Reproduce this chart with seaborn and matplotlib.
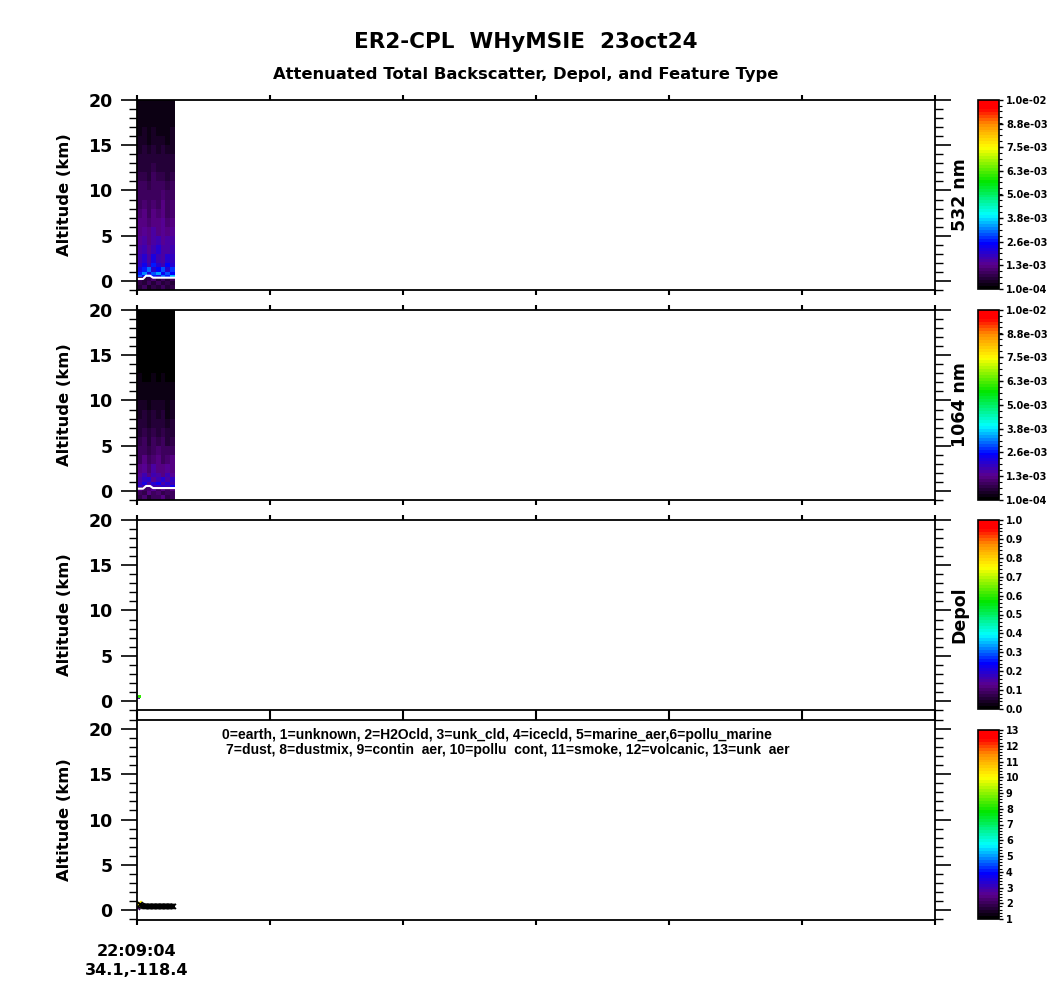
import numpy as np
import matplotlib
matplotlib.use("Agg")
import matplotlib.pyplot as plt
from matplotlib.colors import LinearSegmentedColormap, Normalize
from matplotlib.cm import ScalarMappable
from matplotlib.ticker import MultipleLocator
import seaborn as sns

# ---- data read off the quicklook ----
# profile times (s after 22:09:04) bounding the data columns
col_edges = [0, 21, 43, 64, 86, 107, 128, 150, 171]
# altitude bin edges (km)
alt_edges = [-1.0, -0.5, 0.0, 0.4, 0.7, 1.0, 1.5, 2, 3, 4, 5, 6, 7, 8, 9,
             10, 11, 12, 13, 14, 15, 16, 17, 18, 19, 20]

# 532 nm attenuated backscatter, units of 1e-4, rows bottom -> top
bs532 = [
    [6, 9, 5, 8, 7, 10, 6, 8],
    [8, 6, 10, 7, 9, 6, 8, 7],
    [9, 7, 8, 11, 6, 9, 7, 10],
    [30, 24, 34, 27, 22, 31, 26, 36],
    [26, 33, 22, 29, 35, 24, 30, 25],
    [22, 27, 31, 20, 25, 29, 21, 28],
    [19, 24, 17, 26, 21, 18, 25, 20],
    [17, 20, 15, 22, 18, 16, 21, 19],
    [15, 18, 14, 17, 20, 15, 16, 18],
    [14, 16, 13, 15, 17, 14, 15, 16],
    [13, 14, 12, 15, 13, 14, 12, 14],
    [12, 13, 11, 13, 12, 14, 11, 12],
    [11, 12, 10, 12, 11, 13, 10, 11],
    [10, 11, 10, 11, 10, 12, 9, 11],
    [9, 10, 9, 10, 10, 11, 9, 10],
    [9, 9, 8, 10, 9, 9, 8, 9],
    [8, 8, 7, 9, 8, 8, 7, 8],
    [7, 7, 7, 8, 7, 7, 6, 7],
    [6, 7, 6, 7, 6, 6, 6, 7],
    [5, 6, 5, 6, 5, 6, 5, 5],
    [5, 5, 4, 5, 5, 5, 4, 5],
    [4, 5, 4, 5, 4, 4, 4, 5],
    [4, 4, 4, 4, 4, 4, 4, 4],
    [4, 4, 3, 4, 4, 3, 4, 4],
    [3, 4, 3, 3, 4, 3, 3, 4],
]

# 1064 nm attenuated backscatter, units of 1e-4
bs1064 = [
    [8, 11, 7, 10, 9, 12, 8, 10],
    [10, 8, 12, 9, 11, 8, 10, 9],
    [12, 10, 11, 14, 9, 12, 10, 13],
    [20, 16, 23, 18, 15, 21, 17, 24],
    [18, 22, 15, 20, 23, 16, 21, 17],
    [16, 19, 21, 14, 17, 20, 15, 19],
    [14, 17, 12, 18, 15, 13, 17, 14],
    [12, 14, 11, 15, 13, 12, 14, 13],
    [10, 12, 9, 11, 13, 10, 11, 12],
    [9, 10, 8, 10, 11, 9, 10, 10],
    [8, 9, 7, 9, 8, 9, 7, 8],
    [7, 8, 6, 8, 7, 8, 6, 7],
    [6, 7, 5, 7, 6, 7, 5, 6],
    [5, 6, 5, 6, 5, 6, 4, 5],
    [5, 5, 4, 5, 5, 5, 4, 5],
    [4, 4, 3, 4, 4, 4, 3, 4],
    [3, 3, 3, 3, 3, 3, 3, 3],
    [3, 2, 2, 3, 2, 3, 2, 2],
    [2, 2, 2, 2, 2, 2, 2, 2],
    [1, 2, 1, 2, 1, 1, 1, 2],
    [1, 1, 1, 1, 1, 1, 1, 1],
    [1, 1, 1, 1, 1, 1, 1, 1],
    [1, 1, 1, 1, 1, 1, 1, 1],
    [1, 1, 1, 1, 1, 1, 1, 1],
    [1, 1, 1, 1, 1, 1, 1, 1],
]

# ground return line (white)
surf_time = [0, 27, 41, 59, 72, 171]
surf_alt532 = [0.22, 0.22, 0.58, 0.58, 0.36, 0.36]
surf_alt1064 = [0.25, 0.25, 0.55, 0.55, 0.32, 0.32]

# depol retrievals near the ground
dep_time = [2, 6, 10]
dep_alt = [0.4, 0.4, 0.5]
dep_val = [0.15, 0.15, 0.6]

# feature type flags
ft_time = [2, 5, 9, 14, 20, 26, 32, 38, 44, 50, 56, 62, 68, 74, 80, 86,
           92, 98, 104, 110, 116, 122, 128, 134, 140, 146, 152, 158, 164]
ft_alt = [0.3, 0.6, 0.7, 0.6, 0.5, 0.45, 0.4, 0.4, 0.4, 0.4, 0.4, 0.4, 0.4,
          0.4, 0.4, 0.4, 0.4, 0.4, 0.4, 0.4, 0.4, 0.4, 0.4, 0.4, 0.4, 0.4,
          0.4, 0.4, 0.4]
ft_val = [2, 10, 10, 1, 1, 1, 1, 1, 1, 1, 1, 1, 1, 1, 1, 1, 1, 1, 1, 1, 1,
          1, 1, 1, 1, 1, 1, 1, 1]

x_ticks = [0, 600, 1200, 1800, 2400, 3000, 3600]
x_ticklabels = ["22:09:04\n34.1,-118.4", "", "", "", "", "", ""]
y_ticks = [0, 5, 10, 15, 20]

bs_ticks = [1.0e-4, 1.34e-3, 2.58e-3, 3.81e-3, 5.05e-3, 6.29e-3, 7.53e-3,
            8.76e-3, 1.0e-2]
dep_ticks = [0.0, 0.1, 0.2, 0.3, 0.4, 0.5, 0.6, 0.7, 0.8, 0.9, 1.0]
ft_ticks = [1, 2, 3, 4, 5, 6, 7, 8, 9, 10, 11, 12, 13]

legend_lines = [
    "0=earth, 1=unknown, 2=H2Ocld, 3=unk_cld, 4=icecld, 5=marine_aer,6=pollu_marine",
    "7=dust, 8=dustmix, 9=contin  aer, 10=pollu  cont, 11=smoke, 12=volcanic, 13=unk  aer",
]

# ---- style ----
sns.set_style("ticks")
plt.rcParams['font.family'] = ['DejaVu Sans']
plt.rcParams['font.weight'] = 'bold'
plt.rcParams['axes.linewidth'] = 1.3
for key in ['text.color', 'axes.labelcolor', 'xtick.color', 'ytick.color',
            'axes.edgecolor']:
    plt.rcParams[key] = 'black'

# IDL-like rainbow (black -> purple -> blue -> cyan -> green -> yellow -> red)
cmap = LinearSegmentedColormap.from_list("idl_rainbow", [
    (0.00, (0.0, 0.0, 0.0)),
    (0.12, (0.36, 0.0, 0.55)),
    (0.24, (0.0, 0.0, 1.0)),
    (0.39, (0.0, 1.0, 1.0)),
    (0.57, (0.0, 0.9, 0.0)),
    (0.75, (1.0, 1.0, 0.0)),
    (0.88, (1.0, 0.55, 0.0)),
    (0.96, (1.0, 0.0, 0.0)),
    (1.00, (1.0, 0.0, 0.0)),
], N=64)

fig = plt.figure(figsize=(10.5, 10), dpi=100)

left, width = 0.1305, 0.76
ax_pos = [[left, 0.71, width, 0.19],
          [left, 0.50, width, 0.19],
          [left, 0.29, width, 0.19],
          [left, 0.08, width, 0.20]]
cb_pos = [[0.9314, 0.711, 0.02, 0.189],
          [0.9314, 0.500, 0.02, 0.190],
          [0.9314, 0.291, 0.02, 0.189],
          [0.9314, 0.081, 0.02, 0.189]]
axes = [fig.add_axes(p) for p in ax_pos]

bs_norm = Normalize(vmin=1.0e-4, vmax=1.0e-2)
dep_norm = Normalize(vmin=0.0, vmax=1.0)
ft_norm = Normalize(vmin=1, vmax=13)

# backscatter strips
for ax, grid, salt in [(axes[0], bs532, surf_alt532),
                       (axes[1], bs1064, surf_alt1064)]:
    vals = np.array(grid, dtype=float) * 1e-4
    ax.pcolormesh(col_edges, alt_edges, vals, cmap=cmap, norm=bs_norm)
    sns.lineplot(x=surf_time, y=salt, color="white", lw=1.5,
                 estimator=None, ax=ax)

# depol
sns.scatterplot(x=dep_time, y=dep_alt, hue=dep_val, palette=cmap,
                hue_norm=dep_norm, marker="s", s=6, linewidth=0,
                legend=False, ax=axes[2])

# feature type
sns.scatterplot(x=ft_time, y=ft_alt, hue=ft_val, palette=cmap,
                hue_norm=ft_norm, marker="x", s=14, linewidth=1.2,
                legend=False, ax=axes[3])
for i, line in enumerate(legend_lines):
    axes[3].text(0.1065 + i * 0.005, 0.925 - i * 0.075, line,
                 transform=axes[3].transAxes,
                 ha="left", va="center", fontsize=10, fontweight="bold",
                 family=["Liberation Sans Narrow", "Liberation Sans"])

ylims = [(-1, 20), (-1, 20), (-1, 20), (-1.1, 21)]
for i, ax in enumerate(axes):
    ax.set_xlim(x_ticks[0], x_ticks[-1])
    ax.set_ylim(*ylims[i])
    ax.set_yticks(y_ticks)
    ax.yaxis.set_minor_locator(MultipleLocator(1))
    ax.set_xticks(x_ticks)
    ax.set_ylabel("Altitude (km)", fontsize=11.8, fontweight="bold",
                  labelpad=12)
    ax.tick_params(axis="y", which="major", direction="out", length=11.5,
                   width=1.2, left=True, right=True, labelsize=12.5, pad=6)
    ax.tick_params(axis="y", which="minor", direction="out", length=5.8,
                   width=1.0, left=True, right=True)
    ax.tick_params(axis="x", which="major", direction="out", length=3.5,
                   width=1.5, top=True, bottom=True)
    for lab in ax.get_yticklabels():
        lab.set_fontweight("bold")
    if i < 3:
        ax.set_xticklabels([])
    else:
        ax.set_xticklabels(x_ticklabels, fontsize=11.6, fontweight="bold",
                           linespacing=1.3)
        ax.tick_params(axis="x", pad=14)
    for sp in ax.spines.values():
        sp.set_visible(True)
        sp.set_linewidth(1.3)

# colorbars
cb_specs = [(bs_norm, bs_ticks, "%.1e", "532 nm"),
            (bs_norm, bs_ticks, "%.1e", "1064 nm"),
            (dep_norm, dep_ticks, "%.1f", "Depol"),
            (ft_norm, ft_ticks, "%d", None)]
for pos, (norm, ticks, fmt, name), apos in zip(cb_pos, cb_specs, ax_pos):
    cax = fig.add_axes(pos)
    sm = ScalarMappable(norm=norm, cmap=cmap)
    cb = fig.colorbar(sm, cax=cax, ticks=ticks, format=fmt)
    cb.outline.set_linewidth(1.2)
    cb.ax.tick_params(which="major", length=3, width=1, labelsize=7, pad=2)
    cb.ax.minorticks_on()
    cb.ax.tick_params(which="minor", length=2, width=0.8)
    for lab in cb.ax.get_yticklabels():
        lab.set_fontweight("bold")
    if name:
        fig.text(0.914, apos[1] + apos[3] / 2, name, rotation=90,
                 ha="center", va="center", fontsize=12.5, fontweight="bold")

fig.text(0.501, 0.958, "ER2-CPL  WHyMSIE  23oct24", ha="center", va="center",
         fontsize=15.5, fontweight="bold")
fig.text(0.501, 0.926, "Attenuated Total Backscatter, Depol, and Feature Type",
         ha="center", va="center", fontsize=11.8, fontweight="bold")

fig.savefig("out.png", dpi=100)
